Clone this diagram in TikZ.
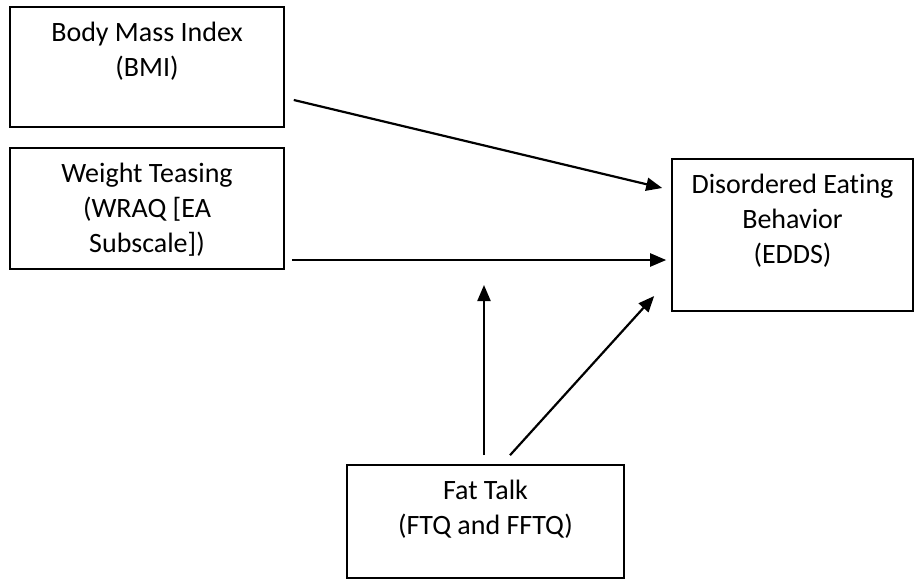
\documentclass[tikz,border=0pt]{standalone}
\usepackage{fontspec}
\setmainfont{Carlito}[Ligatures=NoCommon]
\usetikzlibrary{positioning}
\usetikzlibrary{arrows.meta}
\newcommand{\vartext}[3]{\begin{minipage}[c][#1][t]{#2}\centering\vspace*{15pt}#3\end{minipage}}

\begin{document}
\begin{tikzpicture}
    [
    x=1pt, y=-1pt,
    on grid,
    measure/.style={draw, line width=1.6pt, inner sep=0pt, font=\fontsize{28}{35}\selectfont},
    effect/.style={-{Triangle[length=16pt,width=13pt]}, line width=2.2pt},
    ]
    \useasboundingbox (0,0) rectangle (917,581);

    \node[measure] (var_bmi) at (147,67)
    {\vartext{120pt}{274pt}{Body Mass Index\\(BMI)}};

    \node[measure, below=141.5pt of var_bmi] (var_teasing)
    {\vartext{121pt}{274pt}{Weight Teasing\\(WRAQ [EA\\Subscale])}};

    \node[measure] (var_eating) at (792.5,235)
    {\vartext{152pt}{241pt}{Disordered Eating\\Behavior\\(EDDS)}};

    \node[measure] (var_fattalk) at (485.5,521.5)
    {\vartext{113pt}{277pt}{Fat Talk\\(FTQ and FFTQ)}};

    \coordinate (mod_point) at (484,285);

    \draw[effect] ([shift={(9,33)}]var_bmi.east) -- ([shift={(-9,-47)}]var_eating.west);
    \draw[effect] ([shift={(7,51.5)}]var_teasing.east) -- ([shift={(-5,25)}]var_eating.west);
    \draw[effect] ([shift={(-1.5,-9)}]var_fattalk.north) -- (mod_point);
    \draw[effect] ([shift={(24.5,-9)}]var_fattalk.north) -- ([shift={(-17,61)}]var_eating.west);
\end{tikzpicture}
\end{document}
